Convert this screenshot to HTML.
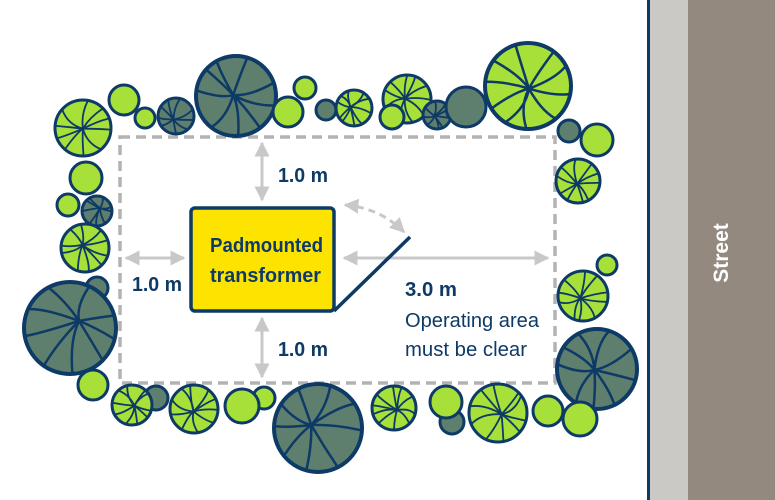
<!DOCTYPE html>
<html><head><meta charset="utf-8"><style>
html,body{margin:0;padding:0;background:#fff;}
svg{display:block}
text{font-family:"Liberation Sans Narrow","Liberation Sans",sans-serif;font-weight:bold;fill:#0d3a66;}
</style></head><body>
<svg id="s" width="775" height="500" viewBox="0 0 775 500" xmlns="http://www.w3.org/2000/svg">
<rect x="0" y="0" width="775" height="500" fill="#fff"/>
<rect x="650" y="0" width="38" height="500" fill="#cbc9c6"/>
<rect x="688" y="0" width="87" height="500" fill="#93897f"/>
<rect x="647" y="0" width="3" height="500" fill="#0d3a66"/>
<text x="0" y="0" transform="translate(728,253) rotate(-90)" text-anchor="middle" style="fill:#fff;font-size:21px;">Street</text>
<rect x="120" y="137" width="435" height="246" fill="none" stroke="#b3b3b3" stroke-width="3.5" stroke-dasharray="10,6"/>
<g id="trees"></g>
<defs>
<marker id="ah" viewBox="0 0 10 10" refX="9" refY="5" markerWidth="5" markerHeight="5" orient="auto-start-reverse"><path d="M0,0 L10,5 L0,10 z" fill="#c8c8c8"/></marker>
</defs>
<g stroke="#c8c8c8" stroke-width="3" fill="none">
<line x1="262" y1="143" x2="262" y2="200" marker-start="url(#ah)" marker-end="url(#ah)"/>
<line x1="262" y1="318" x2="262" y2="377" marker-start="url(#ah)" marker-end="url(#ah)"/>
<line x1="126" y1="258" x2="184" y2="258" marker-start="url(#ah)" marker-end="url(#ah)"/>
<line x1="344" y1="258" x2="548" y2="258" marker-start="url(#ah)" marker-end="url(#ah)"/>
<path d="M345,205 Q380,208 404,232" stroke-dasharray="7,5" marker-start="url(#ah)" marker-end="url(#ah)"/>
</g>
<rect x="191" y="208" width="143" height="103" rx="4" fill="#fde300" stroke="#0d3a66" stroke-width="3.5"/>
<line x1="334" y1="311" x2="410" y2="237" stroke="#0d3a66" stroke-width="3.5"/>
<text x="210" y="252" font-size="20" textLength="113" lengthAdjust="spacingAndGlyphs">Padmounted</text>
<text x="210" y="282" font-size="20" textLength="111" lengthAdjust="spacingAndGlyphs">transformer</text>
<text x="278" y="182" font-size="20" textLength="50" lengthAdjust="spacingAndGlyphs">1.0 m</text>
<text x="278" y="356" font-size="20" textLength="50" lengthAdjust="spacingAndGlyphs">1.0 m</text>
<text x="132" y="291" font-size="20" textLength="50" lengthAdjust="spacingAndGlyphs">1.0 m</text>
<text x="405" y="296" font-size="20" textLength="52" lengthAdjust="spacingAndGlyphs">3.0 m</text>
<text x="405" y="327" font-size="20" style="font-weight:normal" textLength="134" lengthAdjust="spacingAndGlyphs">Operating area</text>
<text x="405" y="356" font-size="20" style="font-weight:normal" textLength="122" lengthAdjust="spacingAndGlyphs">must be clear</text>
</svg>
<script>
var T=[[83,128,28,'LS'],[124,100,15,'L'],[145,118,10,'L'],[176,116,18,'D'],[236,96,40,'D'],[288,112,15,'L'],[305,88,11,'L'],[326,110,10,'DP'],[354,108,18,'LS'],[407,99,24,'LS'],[392,117,12,'L'],[437,115,14,'D'],[466,107,20,'DP'],[528,86,43,'LS'],[569,131,11,'DP'],[597,140,16,'L'],[578,181,22,'LS'],[607,265,10,'L'],[583,296,25,'LS'],[597,369,40,'D'],[580,419,17,'L'],[548,411,15,'L'],[498,413,29,'LS'],[452,422,12,'DP'],[446,402,16,'L'],[394,408,22,'LS'],[318,428,44,'D'],[264,398,11,'L'],[242,406,17,'L'],[194,409,24,'LS'],[156,398,12,'DP'],[132,405,20,'LS'],[93,385,15,'L'],[86,178,16,'L'],[68,205,11,'L'],[97,211,15,'D'],[85,248,24,'LS'],[97,288,11,'DP'],[70,328,46,'D']];
var h='',seed=7;function rnd(){seed=(seed*9301+49297)%233280;return seed/233280;}
T.forEach(function(t){var x=t[0],y=t[1],r=t[2],k=t[3];var f=k[0]=='L'?'#a8e03a':'#5e7f6e';
h+='<circle cx="'+x+'" cy="'+y+'" r="'+r+'" fill="'+f+'" stroke="#0d3a66" stroke-width="'+(r>30?4:3)+'"/>';
if(k=='LS'||k=='D'){var n=k=='D'?9:10;var cx=x+(rnd()-0.5)*r*0.4,cy=y+(rnd()-0.5)*r*0.4;
for(var i=0;i<n;i++){var a=i*2*Math.PI/n+rnd()*0.5;var ex=x+Math.cos(a)*r*0.97,ey=y+Math.sin(a)*r*0.97;
var mx=(cx+ex)/2+(rnd()-0.5)*r*0.4,my=(cy+ey)/2+(rnd()-0.5)*r*0.4;
h+='<path d="M'+cx.toFixed(1)+','+cy.toFixed(1)+' Q'+mx.toFixed(1)+','+my.toFixed(1)+' '+ex.toFixed(1)+','+ey.toFixed(1)+'" stroke="#0d3a66" stroke-width="'+(r>30?2.5:1.8)+'" fill="none"/>';}}});
document.getElementById('trees').innerHTML=h;
</script>
</body></html>
